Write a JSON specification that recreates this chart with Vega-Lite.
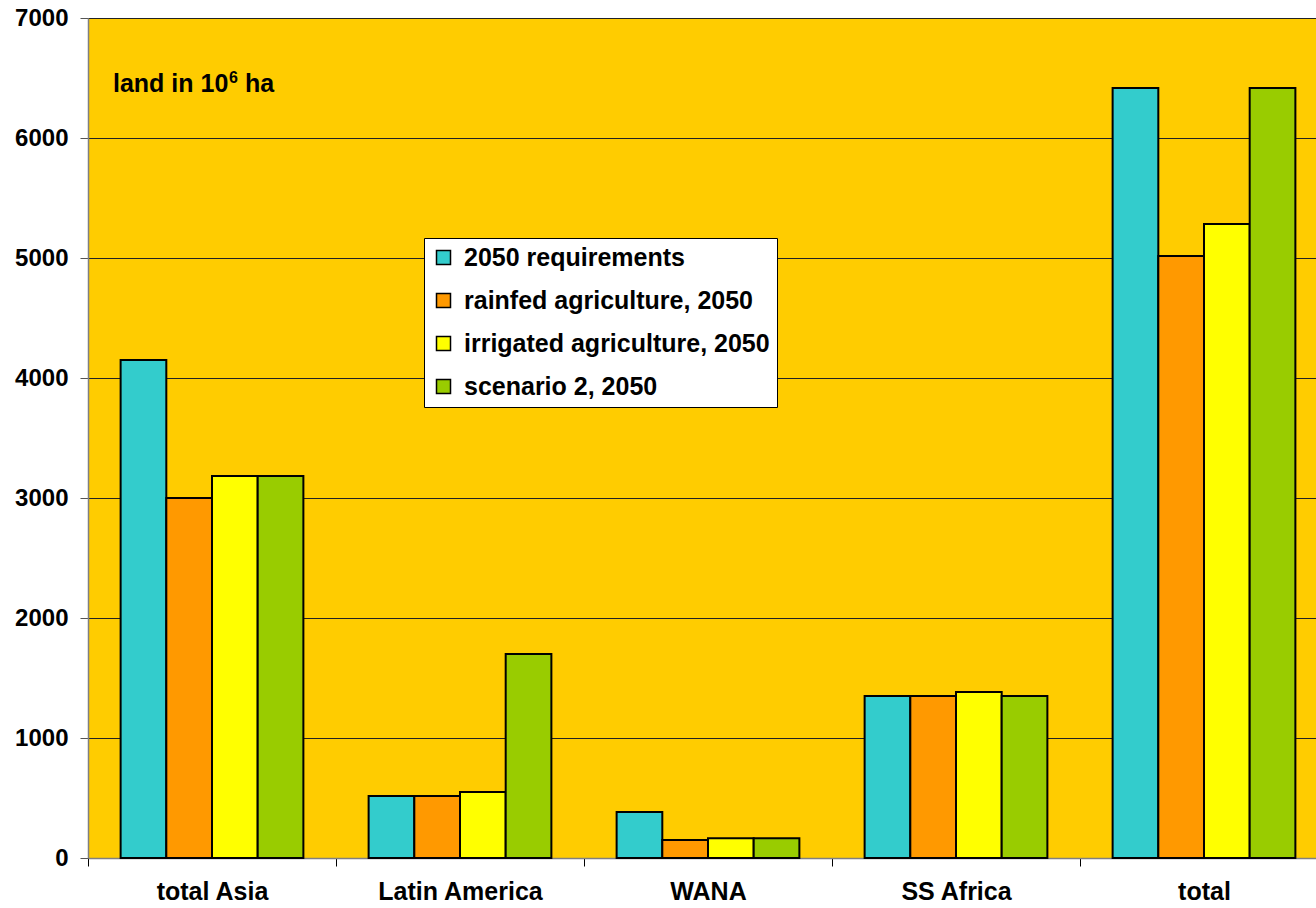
{
  "$schema": "https://vega.github.io/schema/vega-lite/v6.json",
  "width": 1240,
  "height": 840,
  "autosize": {"type": "none"},
  "padding": {"left": 88, "top": 18, "right": 0, "bottom": 50},
  "background": "white",
  "config": {
    "view": {"fill": "#FFCC00", "stroke": "#808080", "strokeWidth": 1},
    "font": "Liberation Sans",
    "legend": {"strokeColor": "black"}
  },
  "layer": [
    {
      "data": {
        "values": [
          {"region": "total Asia", "series": "2050 requirements", "value": 4150},
          {"region": "total Asia", "series": "rainfed agriculture, 2050", "value": 3000},
          {"region": "total Asia", "series": "irrigated agriculture, 2050", "value": 3183},
          {"region": "total Asia", "series": "scenario 2, 2050", "value": 3183},
          {"region": "Latin America", "series": "2050 requirements", "value": 517},
          {"region": "Latin America", "series": "rainfed agriculture, 2050", "value": 517},
          {"region": "Latin America", "series": "irrigated agriculture, 2050", "value": 550},
          {"region": "Latin America", "series": "scenario 2, 2050", "value": 1700},
          {"region": "WANA", "series": "2050 requirements", "value": 383},
          {"region": "WANA", "series": "rainfed agriculture, 2050", "value": 150},
          {"region": "WANA", "series": "irrigated agriculture, 2050", "value": 165},
          {"region": "WANA", "series": "scenario 2, 2050", "value": 165},
          {"region": "SS Africa", "series": "2050 requirements", "value": 1350},
          {"region": "SS Africa", "series": "rainfed agriculture, 2050", "value": 1350},
          {"region": "SS Africa", "series": "irrigated agriculture, 2050", "value": 1383},
          {"region": "SS Africa", "series": "scenario 2, 2050", "value": 1350},
          {"region": "total", "series": "2050 requirements", "value": 6417},
          {"region": "total", "series": "rainfed agriculture, 2050", "value": 5017},
          {"region": "total", "series": "irrigated agriculture, 2050", "value": 5283},
          {"region": "total", "series": "scenario 2, 2050", "value": 6417}
        ]
      },
      "mark": {"type": "bar", "stroke": "black", "strokeWidth": 2},
      "encoding": {
        "x": {
          "field": "region",
          "type": "nominal",
          "sort": ["total Asia", "Latin America", "WANA", "SS Africa", "total"],
          "scale": {"paddingInner": 0, "paddingOuter": 0},
          "axis": {
            "title": null,
            "labelAngle": 0,
            "labelFontSize": 25,
            "labelFontWeight": "bold",
            "labelColor": "black",
            "labelPadding": 13,
            "tickBand": "extent",
            "tickSize": 8,
            "tickColor": "black",
            "domainColor": "#808080",
            "domainWidth": 1.5,
            "grid": false
          }
        },
        "xOffset": {
          "field": "series",
          "type": "nominal",
          "sort": ["2050 requirements", "rainfed agriculture, 2050", "irrigated agriculture, 2050", "scenario 2, 2050"],
          "scale": {"paddingInner": 0, "paddingOuter": 0.714}
        },
        "y": {
          "field": "value",
          "type": "quantitative",
          "stack": null,
          "scale": {"domain": [0, 7000], "nice": false},
          "axis": {
            "title": null,
            "values": [0, 1000, 2000, 3000, 4000, 5000, 6000, 7000],
            "format": "d",
            "labelFontSize": 24,
            "labelFontWeight": "bold",
            "labelColor": "black",
            "labelPadding": 12,
            "tickSize": 8,
            "tickColor": "#555555",
            "domainColor": "#808080",
            "domainWidth": 1.5,
            "grid": true,
            "gridColor": "#222222",
            "gridWidth": 1.2
          }
        },
        "color": {
          "field": "series",
          "type": "nominal",
          "scale": {
            "domain": ["2050 requirements", "rainfed agriculture, 2050", "irrigated agriculture, 2050", "scenario 2, 2050"],
            "range": ["#33CCCC", "#FF9900", "#FFFF00", "#99CC00"]
          },
          "legend": {
            "title": null,
            "orient": "none",
            "legendX": 336,
            "legendY": 220,
            "fillColor": "white",
            "padding": 7,
            "rowPadding": 17,
            "symbolType": "square",
            "symbolSize": 196,
            "symbolStrokeColor": "black",
            "symbolStrokeWidth": 1.5,
            "labelFontSize": 25,
            "labelFontWeight": "bold",
            "labelColor": "black",
            "labelOffset": 8,
            "labelLimit": 400
          }
        }
      }
    },
    {
      "data": {"values": [{"region": "total Asia", "v": 6383, "label": "land in 10", "sup": "6", "unit": "ha"}]},
      "encoding": {
        "x": {"field": "region", "type": "nominal", "sort": ["total Asia", "Latin America", "WANA", "SS Africa", "total"]},
        "y": {"field": "v", "type": "quantitative"}
      },
      "layer": [
        {
          "mark": {"type": "text", "align": "left", "baseline": "alphabetic", "fontSize": 25, "fontWeight": "bold", "color": "black", "dx": -99},
          "encoding": {"text": {"field": "label", "type": "nominal"}}
        },
        {
          "mark": {"type": "text", "align": "left", "baseline": "alphabetic", "fontSize": 16, "fontWeight": "bold", "color": "black", "dx": 17, "dy": -9},
          "encoding": {"text": {"field": "sup", "type": "nominal"}}
        },
        {
          "mark": {"type": "text", "align": "left", "baseline": "alphabetic", "fontSize": 25, "fontWeight": "bold", "color": "black", "dx": 33},
          "encoding": {"text": {"field": "unit", "type": "nominal"}}
        }
      ]
    }
  ]
}
